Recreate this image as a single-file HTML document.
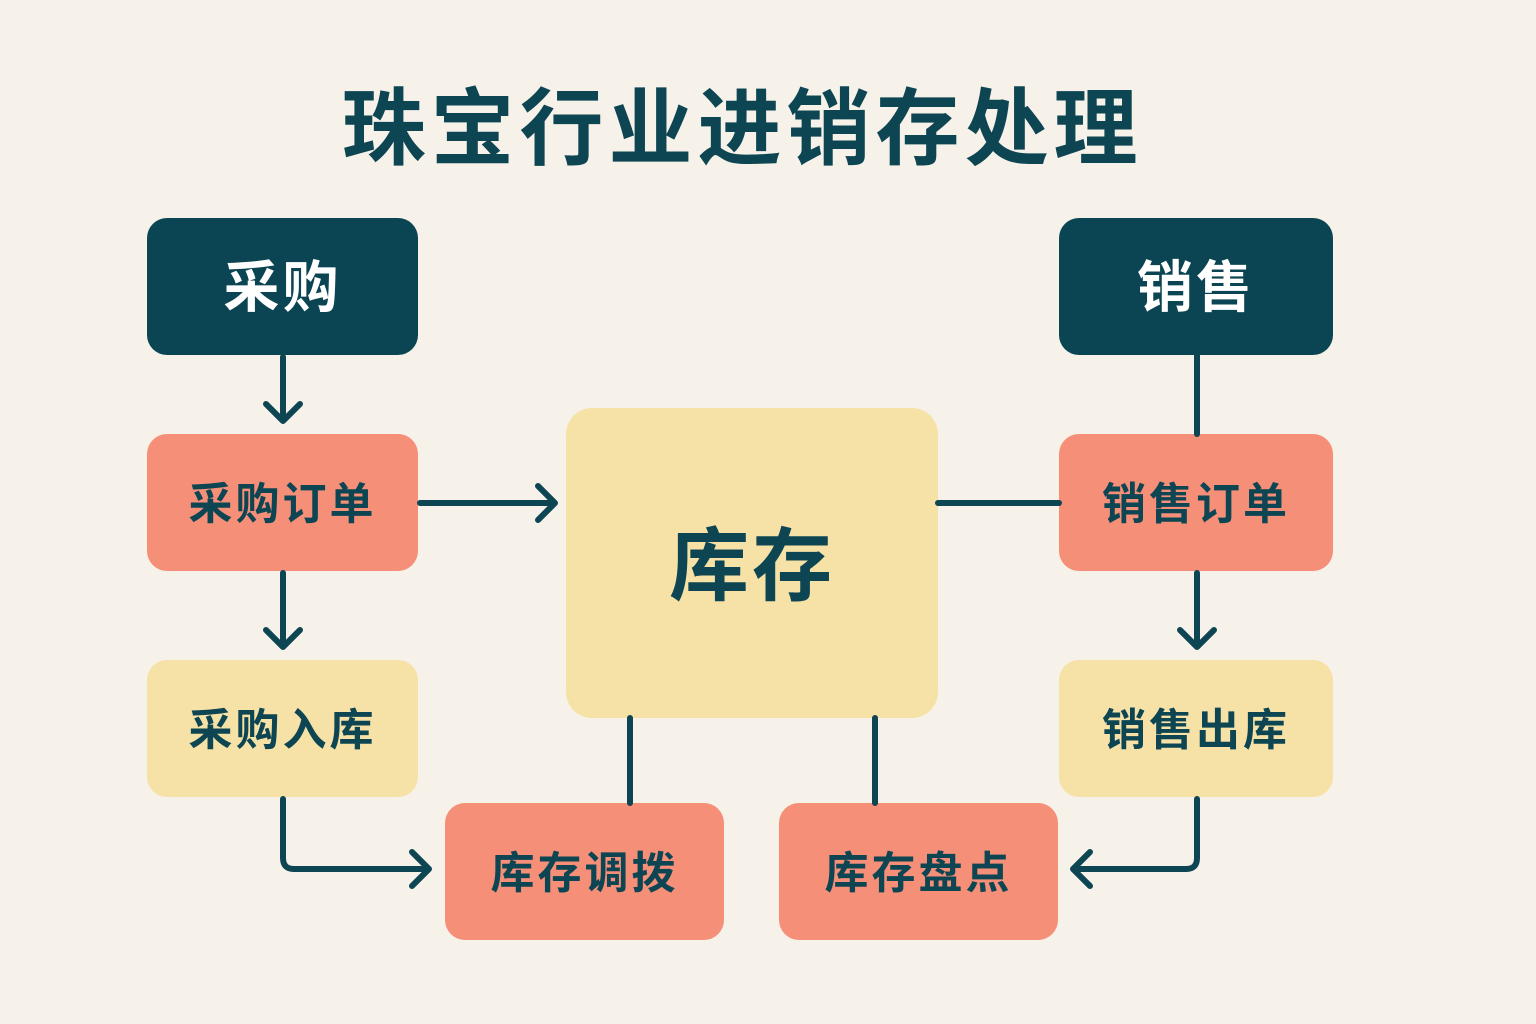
<!DOCTYPE html>
<html><head><meta charset="utf-8"><style>
body{margin:0;width:1536px;height:1024px;background:#f6f2ea;position:relative;overflow:hidden;font-family:"Liberation Sans","Noto Sans CJK SC",sans-serif;}
.t{position:absolute;left:-26px;width:1536px;top:62px;text-align:center;font-size:84px;font-weight:700;color:#0d4553;letter-spacing:5px}
.b{position:absolute;border-radius:20px;display:flex;align-items:center;justify-content:center;font-weight:700;color:#0d4553;font-size:44px;letter-spacing:3px;padding-bottom:6px;box-sizing:border-box}
.d{background:#0b4452;color:#fff;font-size:56px}
.s{background:#f58f78}
.y{background:#f6e2a6}
svg{position:absolute;left:0;top:0}
</style></head><body>
<div class="t">珠宝行业进销存处理</div>
<div class="b d" style="left:147px;top:218px;width:271px;height:137px">采购</div>
<div class="b d" style="left:1059px;top:218px;width:274px;height:137px">销售</div>
<div class="b s" style="left:147px;top:434px;width:271px;height:137px">采购订单</div>
<div class="b s" style="left:1059px;top:434px;width:274px;height:137px">销售订单</div>
<div class="b y" style="left:147px;top:660px;width:271px;height:137px">采购入库</div>
<div class="b y" style="left:1059px;top:660px;width:274px;height:137px">销售出库</div>
<div class="b y" style="left:566px;top:408px;width:372px;height:310px;font-size:80px;border-radius:26px">库存</div>
<div class="b s" style="left:445px;top:803px;width:279px;height:137px">库存调拨</div>
<div class="b s" style="left:779px;top:803px;width:279px;height:137px">库存盘点</div>
<svg width="1536" height="1024" fill="none" stroke="#0d4553" stroke-width="6" stroke-linecap="round" stroke-linejoin="round">
<path d="M283 357V420M266 404L283 421L300 404"/>
<path d="M283 573V646M266 630L283 647L300 630"/>
<path d="M420 503H554M538 486L555 503L538 520"/>
<path d="M938 503H1059"/>
<path d="M1197 355V434"/>
<path d="M1197 573V646M1180 630L1197 647L1214 630"/>
<path d="M630 718V803M875 718V803"/>
<path d="M283 799V858Q283 869 294 869H428M412 852L429 869L412 886"/>
<path d="M1197 799V858Q1197 869 1186 869H1074M1090 852L1073 869L1090 886"/>
</svg>
</body></html>
